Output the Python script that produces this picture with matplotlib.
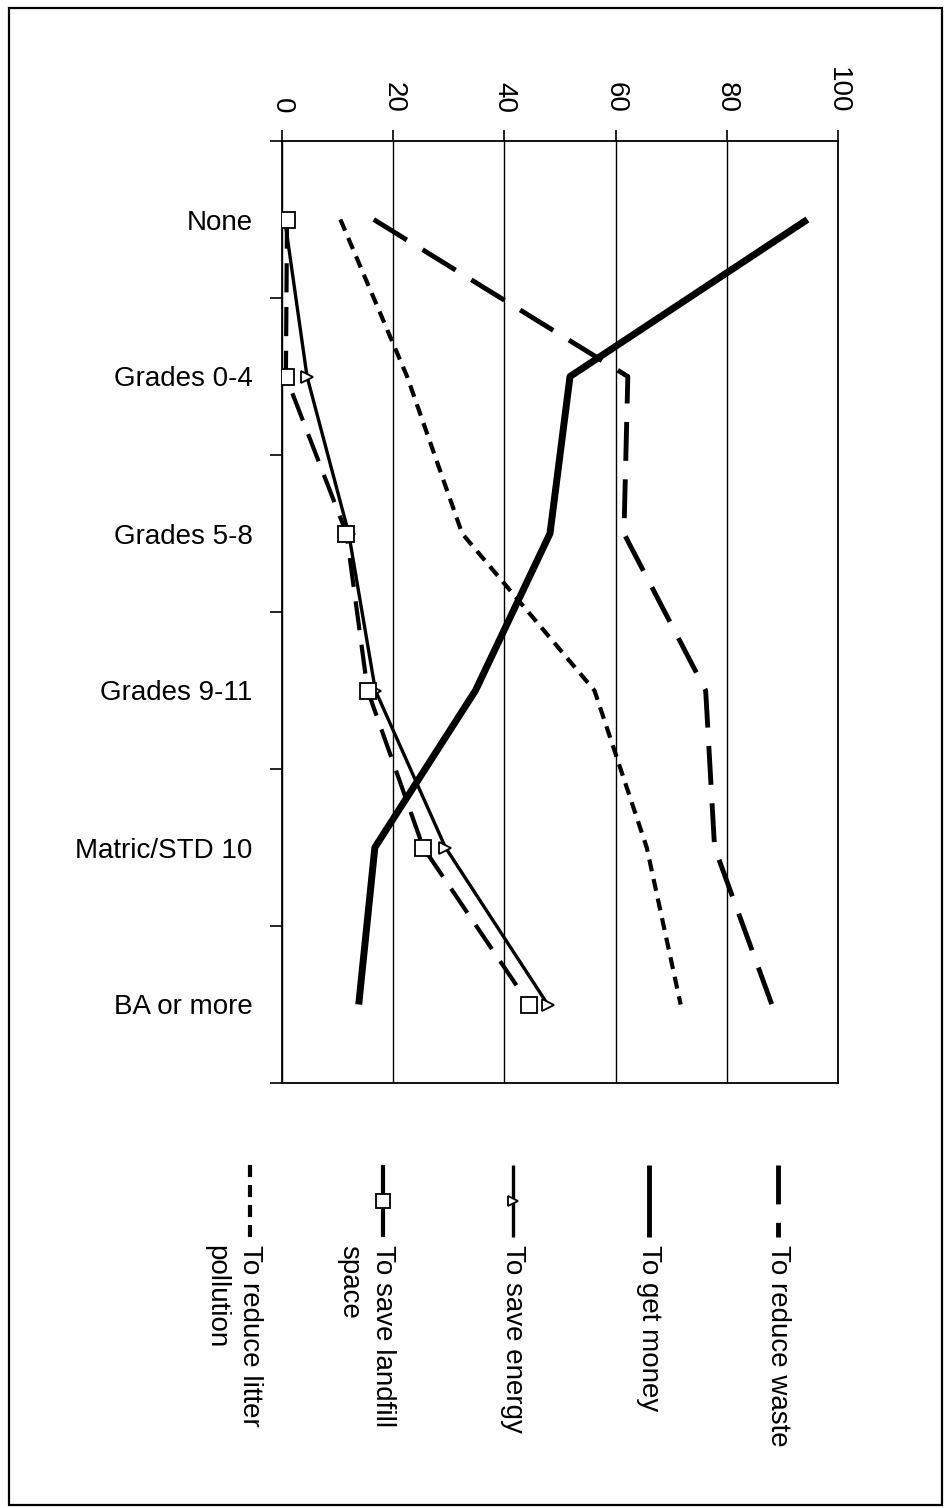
import matplotlib
matplotlib.use("Agg")
import matplotlib.pyplot as plt
from matplotlib.patches import Rectangle

plt.rcParams['font.family'] = ['Liberation Sans', 'DejaVu Sans']

# ---------------- data ----------------
categories = ["None", "Grades 0-4", "Grades 5-8", "Grades 9-11", "Matric/STD 10", "BA or more"]
reduce_waste = [16.5, 62.2, 61.5, 76.2, 77.8, 88.1]
get_money = [94.5, 51.8, 48.2, 34.8, 16.7, 13.8]
save_energy = [0.5, 4.5, 12.0, 16.8, 29.4, 47.8]
save_landfill = [0.9, 0.7, 11.6, 15.4, 25.4, 44.5]
reduce_litter = [10.5, 22.5, 32.4, 56.2, 65.6, 71.7]
value_ticks = [0, 20, 40, 60, 80, 100]
legend_labels = [["To reduce waste"], ["To get money"], ["To save energy"],
                 ["To save landfill", "space"], ["To reduce litter", "pollution"]]

W, H = 945, 1508
fig = plt.figure(figsize=(W / 100, H / 100), dpi=100)

# plot area (pixel layout)
L, R, T, B = 282, 838, 141, 1083
ax = fig.add_axes([L / W, 1 - B / H, (R - L) / W, (B - T) / H])

styles = [
    dict(data=reduce_waste, lw=3.5, ls=(0, (8, 3.8)), marker=None),
    dict(data=get_money, lw=5.0, ls='-', marker=None),
    dict(data=save_energy, lw=2.4, ls='-', marker='>', ms=9),
    dict(data=save_landfill, lw=3.0, ls=(0, (7, 3.5)), marker='s', ms=12),
    dict(data=reduce_litter, lw=3.0, ls=(0, (2.9, 1.9)), marker=None),
]

ypos = list(range(len(categories)))
for st in styles:
    ax.plot(st['data'], ypos, color='black', lw=st['lw'], ls=st['ls'],
            marker=st['marker'], ms=st.get('ms', 0), mfc='white', mec='black',
            mew=1.3, solid_capstyle='butt', dash_capstyle='butt', zorder=3)

ax.set_xlim(0, 100)
ax.set_ylim(len(categories) - 0.5, -0.5)

# value axis on top, rotated labels
ax.xaxis.tick_top()
ax.set_xticks(value_ticks)
ax.set_xticklabels([str(v) for v in value_ticks], rotation=-90, fontsize=20)
ax.tick_params(axis='x', direction='out', length=8, width=1.2, pad=12)
for lab in ax.get_xticklabels():
    lab.set_ha('center')
    lab.set_va('bottom')
ax.grid(axis='x', color='black', lw=1.0, zorder=1)

# category axis
ax.set_yticks([i - 0.5 for i in range(len(categories) + 1)])
ax.set_yticklabels([])
ax.tick_params(axis='y', which='major', direction='out', length=9, width=1.2)
ax.set_yticks(ypos, minor=True)
ax.set_yticklabels(categories, minor=True, fontsize=20)
ax.tick_params(axis='y', which='minor', length=0, pad=21)

for sp in ax.spines.values():
    sp.set_linewidth(1.3)
    sp.set_color('black')

# ---------------- overlay for legend and frame ----------------
ov = fig.add_axes([0, 0, 1, 1])
ov.set_xlim(0, W)
ov.set_ylim(H, 0)
ov.axis('off')
ov.patch.set_visible(False)

ov.add_patch(Rectangle((9, 8), 933, 1497, fill=False, lw=1.6, ec='black'))

leg_x = [778, 649, 513, 383, 250]
y0, y1, ytxt = 1165, 1237, 1245
for x, st, labs in zip(leg_x, styles, legend_labels):
    ov.plot([x, x], [y0, y1], color='black', lw=min(st['lw'], 3.5), ls=st['ls'],
            solid_capstyle='butt', dash_capstyle='butt')
    if st['marker']:
        ov.plot([x], [(y0 + y1) / 2], marker=st['marker'], ms=st['ms'] * 0.85,
                mfc='white', mec='black', mew=1.3, color='black', ls='none')
    for k, t in enumerate(labs):
        ov.text(x - 34 * k, ytxt, t, rotation=-90, fontsize=20,
                ha='center', va='top')

fig.savefig("out.png", dpi=100)
